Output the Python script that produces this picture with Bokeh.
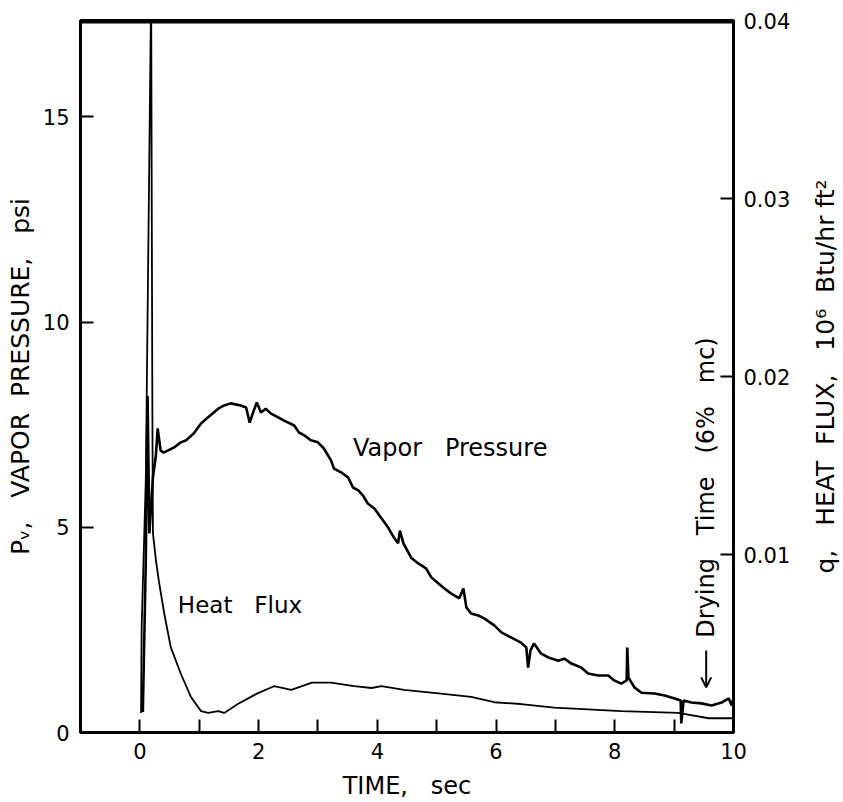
from bokeh.plotting import figure
from bokeh.layouts import row
from bokeh.models import Range1d, LinearAxis, FixedTicker, Label, Arrow, OpenHead, Span
from bokeh.embed import file_html
from bokeh.resources import INLINE

# ---- data ----
vp_time = [0.05, 0.10, 0.13, 0.16, 0.22, 0.27, 0.30, 0.35, 0.40, 0.57, 0.69, 0.78, 0.91, 1.03,
           1.15, 1.32, 1.42, 1.53, 1.70, 1.79, 1.85, 1.92, 1.97, 2.04, 2.12, 2.21, 2.33, 2.43,
           2.60, 2.68, 2.77, 2.88, 3.00, 3.10, 3.22, 3.27, 3.39, 3.51, 3.59, 3.68, 3.76, 3.84,
           3.95, 4.06, 4.18, 4.28, 4.35, 4.38, 4.44, 4.57, 4.69, 4.82, 4.91, 5.03, 5.13, 5.24,
           5.38, 5.45, 5.50, 5.58, 5.70, 5.80, 5.97, 6.09, 6.26, 6.42, 6.51, 6.54, 6.58, 6.64,
           6.76, 6.88, 7.05, 7.15, 7.27, 7.44, 7.55, 7.72, 7.89, 7.99, 8.11, 8.20, 8.21, 8.23,
           8.33, 8.45, 8.67, 8.84, 9.01, 9.11, 9.12, 9.16, 9.29, 9.46, 9.63, 9.80, 9.92, 9.97, 10.0]
vp_psi = [0.5, 4.19, 8.2, 4.85, 6.21, 6.75, 7.41, 6.87, 6.82, 6.94, 7.07, 7.12, 7.29, 7.53,
          7.68, 7.89, 7.97, 8.02, 7.97, 7.92, 7.55, 7.85, 8.04, 7.80, 7.89, 7.77, 7.68, 7.60,
          7.48, 7.31, 7.24, 7.12, 7.07, 6.92, 6.63, 6.43, 6.34, 6.21, 5.97, 5.90, 5.77, 5.58,
          5.46, 5.24, 5.00, 4.75, 4.61, 4.92, 4.61, 4.26, 4.12, 4.00, 3.78, 3.63, 3.51, 3.39,
          3.27, 3.51, 3.05, 2.90, 2.85, 2.78, 2.61, 2.44, 2.31, 2.19, 2.07, 1.58, 2.00, 2.17,
          1.92, 1.83, 1.75, 1.80, 1.68, 1.58, 1.44, 1.39, 1.39, 1.27, 1.19, 1.27, 2.07, 1.34,
          1.10, 0.97, 0.95, 0.90, 0.83, 0.78, 0.22, 0.78, 0.73, 0.71, 0.66, 0.73, 0.83, 0.66, 0.85]

hf_time = [0.02, 0.03, 0.10, 0.19, 0.21, 0.22, 0.27, 0.32, 0.41, 0.52, 0.69, 0.86, 1.03, 1.15,
           1.32, 1.42, 1.65, 1.98, 2.26, 2.55, 2.90, 3.22, 3.61, 3.90, 4.07, 4.45, 5.03, 5.58,
           5.97, 6.42, 6.98, 8.11, 9.07, 9.58, 10.0]
hf_q = [0.0011, 0.0059, 0.0142, 0.0417, 0.0187, 0.0112, 0.0097, 0.0085, 0.0067, 0.0048, 0.0033,
        0.0020, 0.0012, 0.0011, 0.0012, 0.0011, 0.0016, 0.0022, 0.0026, 0.0024, 0.0028, 0.0028,
        0.0026, 0.0025, 0.0026, 0.0024, 0.0022, 0.0020, 0.0017, 0.0016, 0.0014, 0.0012, 0.0011,
        0.0008, 0.0008]

x_ticks = [0, 2, 4, 6, 8, 10]
x_minor = [1, 3, 5, 7, 9]
left_ticks = [0, 5, 10, 15]
right_ticks = [0.01, 0.02, 0.03, 0.04]

FONT = "DejaVu Sans"
NB = "\u00a0"
RIGHT_TITLE = "q," + NB * 3 + "HEAT" + NB * 2 + "FLUX," + NB * 3 + "10\u2076" + NB * 2 + "Btu/hr" + NB + "ft\u00b2"

p = figure(width=808, height=802, output_backend="svg", toolbar_location=None,
           x_range=Range1d(-1, 10), y_range=Range1d(0, 17.35),
           x_axis_label="TIME," + NB * 3 + "sec",
           y_axis_label="P\u1d65," + NB * 3 + "VAPOR" + NB * 2 + "PRESSURE," + NB * 3 + "psi",
           min_border_left=80, min_border_right=75, min_border_top=20, min_border_bottom=70)
p.extra_y_ranges = {"q": Range1d(0, 0.04)}
p.grid.visible = False
p.outline_line_color = "black"
p.outline_line_width = 3
p.background_fill_color = "white"
p.border_fill_color = "white"

right = LinearAxis(y_range_name="q")
p.add_layout(right, "right")

bottom = p.below[0]
left = p.left[0]
bottom.ticker = FixedTicker(ticks=x_ticks, minor_ticks=x_minor)
left.ticker = FixedTicker(ticks=left_ticks)
right.ticker = FixedTicker(ticks=right_ticks)

for ax in [bottom, left, right]:
    ax.axis_line_width = 3
    ax.axis_line_color = "black"
    ax.major_tick_in = 13
    ax.major_tick_out = 0
    ax.minor_tick_in = 13
    ax.minor_tick_out = 0
    ax.major_tick_line_width = 2
    ax.minor_tick_line_width = 2
    ax.major_tick_line_color = "black"
    ax.minor_tick_line_color = "black"
    ax.major_label_text_font = FONT
    ax.major_label_text_font_size = "21px"
    ax.major_label_text_color = "black"
    ax.axis_label_text_font = FONT
    ax.axis_label_text_font_style = "normal"
    ax.axis_label_text_font_size = "25px"
    ax.axis_label_text_color = "black"

bottom.axis_label_text_font_size = "24px"
left.minor_tick_in = 0
right.minor_tick_in = 0
bottom.major_label_standoff = 10
bottom.axis_label_standoff = 10
left.major_label_standoff = 11
left.axis_label_standoff = 5
right.major_label_standoff = 10

# top edge of the frame
p.add_layout(Span(location=17.35, dimension="width", line_color="black", line_width=6))

p.line(vp_time, vp_psi, line_color="black", line_width=2.6)
p.line(hf_time, hf_q, y_range_name="q", line_color="black", line_width=1.8)

p.add_layout(Label(x=3.59, y=6.58, text="Vapor" + NB * 3 + "Pressure", text_font=FONT,
                   text_font_size="24px", text_color="black"))
p.add_layout(Label(x=0.64, y=2.80, text="Heat" + NB * 3 + "Flux", text_font=FONT,
                   text_font_size="23px", text_color="black"))
p.add_layout(Label(x=9.54, y=2.31, text="Drying" + NB * 3 + "Time" + NB * 3 + "(6%" + NB * 3 + "mc)",
                   angle=1.5708, text_baseline="middle", text_font=FONT, text_font_size="24px",
                   text_color="black"))
p.add_layout(Arrow(x_start=9.54, y_start=2.0, x_end=9.54, y_end=1.1, line_width=2,
                   end=OpenHead(size=10, line_width=2)))

# narrow companion panel that carries the right-hand title, reading upwards
side = figure(width=35, height=802, output_backend="svg", toolbar_location=None,
              x_range=Range1d(0, 1), y_range=Range1d(0, 1),
              min_border_left=30, min_border_right=4, min_border_top=20, min_border_bottom=70)
side.outline_line_color = None
side.background_fill_color = "white"
side.border_fill_color = "white"
side.grid.visible = False
side.xaxis.visible = False
sax = side.yaxis[0]
sax.ticker = FixedTicker(ticks=[])
sax.axis_line_color = None
sax.major_tick_in = 0
sax.major_tick_out = 0
sax.minor_tick_in = 0
sax.minor_tick_out = 0
sax.major_label_standoff = 0
sax.axis_label = RIGHT_TITLE
sax.axis_label_standoff = 0
sax.axis_label_text_font = FONT
sax.axis_label_text_font_style = "normal"
sax.axis_label_text_font_size = "25px"
sax.axis_label_text_color = "black"

layout = row(p, side, spacing=0)
open("out.html", "w").write(file_html(layout, INLINE))
